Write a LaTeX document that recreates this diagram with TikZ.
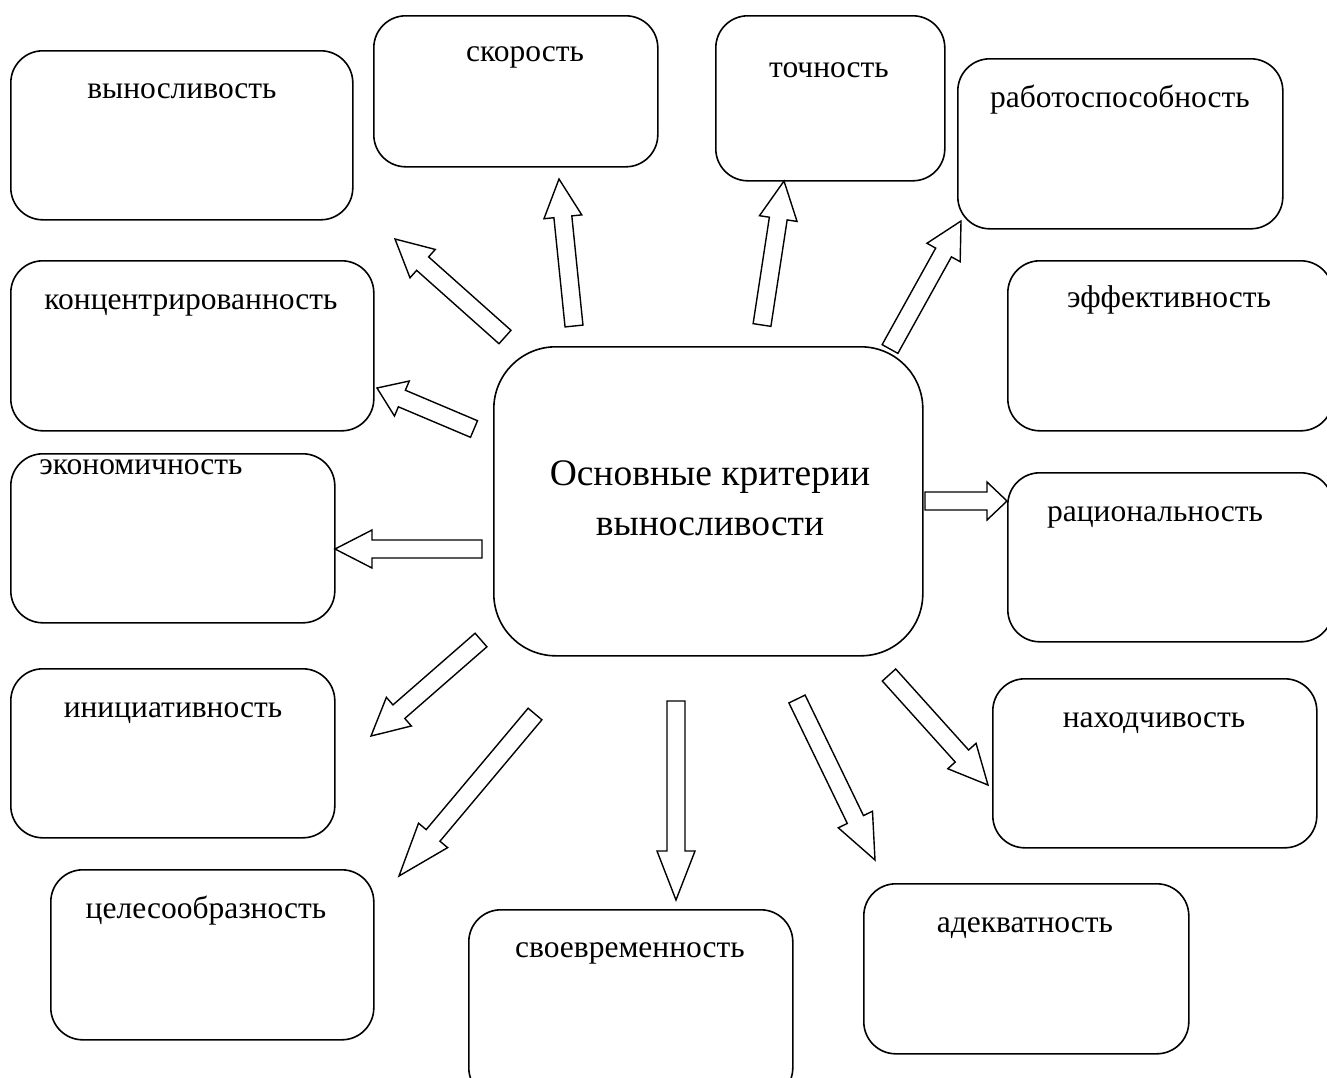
\documentclass[tikz,border=0pt]{standalone}
\usepackage{fontspec}
\setmainfont{Liberation Serif}
\usetikzlibrary{calc}
\tikzset{
  box/.style={draw, line width=1.6pt, rounded corners=32pt, anchor=north west, inner sep=0pt},
  cbox/.style={draw, line width=1.6pt, rounded corners=62pt, anchor=north west, inner sep=0pt},
  lbl/.style={anchor=base, inner sep=0pt, font=\fontsize{31.5}{36}\selectfont},
  clbl/.style={anchor=base, inner sep=0pt, font=\fontsize{37.5}{44}\selectfont},
  barr/.style={draw, line width=1.4pt, fill=white, line join=miter}
}
\newcommand\bx[6][box]{\node[#1, minimum width=#5pt, minimum height=#6pt] (#2) at (#3,#4) {};}
\newcommand\blockarr[3][37pt]{%
  \coordinate (#2h) at ($(#3)!#1!(#2)$);
  \draw[barr] ($(#2)!9pt!90:(#3)$) -- ($(#2h)!9pt!90:(#3)$) -- ($(#2h)!19pt!90:(#3)$) -- (#3)
    -- ($(#2h)!19pt!-90:(#3)$) -- ($(#2h)!9pt!-90:(#3)$) -- ($(#2)!9pt!-90:(#3)$) -- cycle;}
\begin{document}
\begin{tikzpicture}[x=1pt,y=-1pt]
\useasboundingbox (0,0) rectangle (1327,1077);
\clip (0,0) rectangle (1327,1077);
\fill[white] (0,0) rectangle (1327,1077);
% boxes
\bx{b1}{10}{50}{342}{169}
\bx{b2}{373}{15}{284}{151}
\bx{b3}{715}{15}{229}{165}
\bx{b4}{957}{58}{325}{170}
\bx{b5}{10}{260}{363}{170}
\bx{b6}{1007}{260}{325}{170}
\bx{b7}{10}{453}{324}{169}
\bx{b8}{1007}{472}{325}{169}
\bx{b9}{10}{668}{324}{169}
\bx{b10}{992}{678}{324}{169}
\bx{b11}{50}{869}{323}{170}
\bx{b12}{468}{909}{324}{190}
\bx{b13}{863}{883}{325}{170}
\bx[cbox]{c}{493}{346}{429}{309}
% labels
\node[lbl] (t1) at (182,98) {выносливость};
\node[lbl] (t2) at (525,61) {скорость};
\node[lbl] (t3) at (829,77) {точность};
\node[lbl] (t4) at (1120,107) {работоспособность};
\node[lbl] (t5) at (191,309) {концентрированность};
\node[lbl] (t6) at (1169,307) {эффективность};
\node[lbl] (t7) at (141,474) {экономичность};
\node[lbl] (t8) at (1155,521) {рациональность};
\node[lbl] (t9) at (173,717) {инициативность};
\node[lbl] (t10) at (1154,727) {находчивость};
\node[lbl] (t11) at (206,918) {целесообразность};
\node[lbl] (t12) at (630,957) {своевременность};
\node[lbl] (t13) at (1025,932) {адекватность};
\node[clbl] (ct1) at (710,485) {Основные критерии};
\node[clbl] (ct2) at (710,535) {выносливости};
% arrow ends
\coordinate (a1t) at (505,337);  \coordinate (a1p) at (395,239);
\coordinate (a2t) at (574,326);  \coordinate (a2p) at (559,179);
\coordinate (a3t) at (762,325);  \coordinate (a3p) at (784,181);
\coordinate (a4t) at (890,349);  \coordinate (a4p) at (961,221);
\coordinate (a5t) at (474,429);  \coordinate (a5p) at (377,388);
\coordinate (a6t) at (482,549);  \coordinate (a6p) at (335,549);
\coordinate (a7t) at (925,501);  \coordinate (a7p) at (1007,501);
\coordinate (a8t) at (481,640);  \coordinate (a8p) at (371,736);
\coordinate (a9t) at (535,714);  \coordinate (a9p) at (399,876);
\coordinate (a10t) at (676,701); \coordinate (a10p) at (676,900);
\coordinate (a11t) at (797,699); \coordinate (a11p) at (875,860);
\coordinate (a12t) at (889,675); \coordinate (a12p) at (988,785);
\blockarr{a1t}{a1p}
\blockarr[38pt]{a2t}{a2p}
\blockarr[38pt]{a3t}{a3p}
\blockarr[36pt]{a4t}{a4p}
\blockarr[27pt]{a5t}{a5p}
\blockarr{a6t}{a6p}
\blockarr[20pt]{a7t}{a7p}
\blockarr{a8t}{a8p}
\blockarr[53pt]{a9t}{a9p}
\blockarr[49pt]{a10t}{a10p}
\blockarr[45pt]{a11t}{a11p}
\blockarr[39pt]{a12t}{a12p}
\end{tikzpicture}
\end{document}
